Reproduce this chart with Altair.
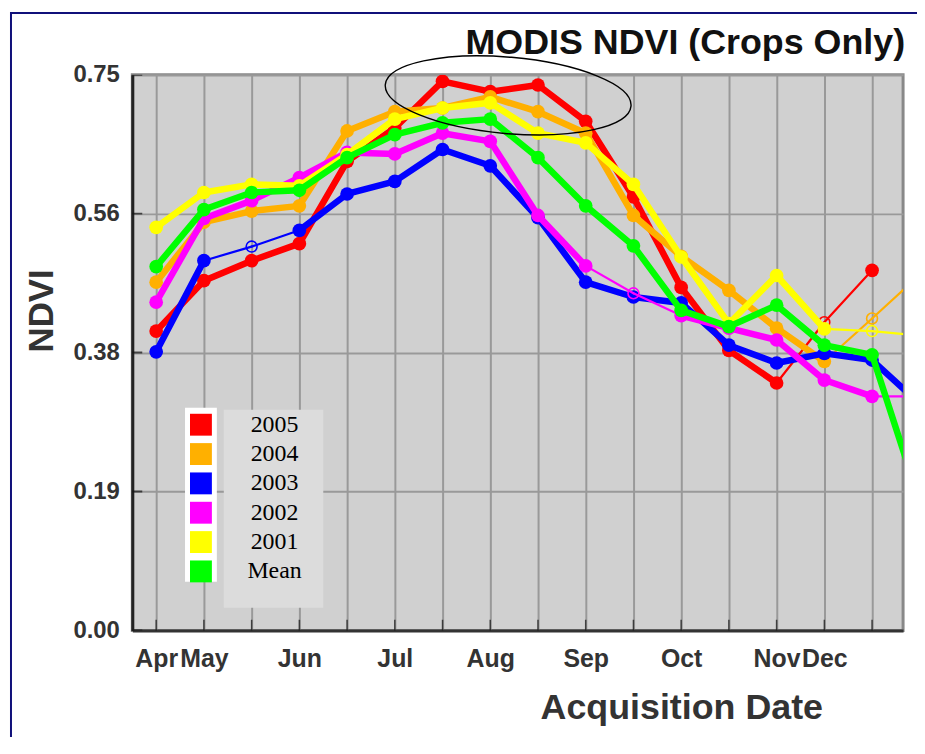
import json
import altair as alt
import pandas as pd

# ---------------- data ----------------
SERIES = ["2005", "2004", "2003", "2002", "2001", "Mean"]
COLORS = ["#ff0000", "#ffb000", "#0000ff", "#ff00ff", "#ffff00", "#00ff00"]
PERIOD = list(range(17))  # 16-day composite index (Apr ... Dec, last one beyond the frame)
TICK_LABELS = ["Apr", "May", "", "Jun", "", "Jul", "", "Aug", "", "Sep", "", "Oct", "", "Nov", "Dec", ""]
Y_TICKS = [0.0, 0.1875, 0.375, 0.5625, 0.75]

NDVI_2005 = [0.404, 0.472, 0.499, 0.522, 0.633, 0.678, 0.741, 0.727, 0.736, 0.687, 0.585, 0.463, 0.378, 0.334, 0.416, 0.486, None]
NDVI_2004 = [0.470, 0.551, 0.566, 0.573, 0.674, 0.700, 0.705, 0.720, 0.700, 0.671, 0.560, 0.505, 0.459, 0.408, 0.363, 0.421, 0.480]
NDVI_2003 = [0.376, 0.499, 0.518, 0.540, 0.589, 0.606, 0.649, 0.627, 0.557, 0.470, 0.450, 0.442, 0.385, 0.361, 0.374, 0.365, 0.306]
NDVI_2002 = [0.443, 0.556, 0.580, 0.611, 0.645, 0.643, 0.671, 0.660, 0.560, 0.492, 0.455, 0.425, 0.408, 0.392, 0.338, 0.316, 0.316]
NDVI_2001 = [0.544, 0.591, 0.602, 0.600, 0.642, 0.690, 0.705, 0.712, 0.671, 0.658, 0.602, 0.504, 0.414, 0.479, 0.407, 0.404, 0.398]
NDVI_MEAN = [0.491, 0.568, 0.591, 0.594, 0.638, 0.669, 0.685, 0.690, 0.638, 0.573, 0.519, 0.432, 0.410, 0.439, 0.385, 0.372, 0.174]

# composites that are missing / interpolated (drawn as hollow markers, thin joins)
HOLLOW_2005 = [14]
HOLLOW_2004 = [15]
HOLLOW_2003 = [2]
HOLLOW_2002 = [10, 16]
HOLLOW_2001 = [15]
HOLLOW_MEAN = []

# annotation ellipse (data units)
ELLIPSE_X = 7.375
ELLIPSE_Y = 0.722

VALUES = [NDVI_2005, NDVI_2004, NDVI_2003, NDVI_2002, NDVI_2001, NDVI_MEAN]
HOLLOWS = [HOLLOW_2005, HOLLOW_2004, HOLLOW_2003, HOLLOW_2002, HOLLOW_2001, HOLLOW_MEAN]
LAST_VISIBLE = 15

pt_rows, seg_rows = [], []
for s, vals, hol in zip(SERIES, VALUES, HOLLOWS):
    for i, v in zip(PERIOD, vals):
        if v is not None and i <= LAST_VISIBLE:
            pt_rows.append({"series": s, "x": i, "y": v, "hollow": i in hol})
    for i in PERIOD[:-1]:
        a, b = vals[i], vals[i + 1]
        if a is None or b is None:
            continue
        seg_rows.append({"series": s, "x": i, "y": a, "x2": i + 1, "y2": b,
                         "thin": (i in hol) or (i + 1 in hol)})
points = pd.DataFrame(pt_rows)
segments = pd.DataFrame(seg_rows)
xticks = pd.DataFrame({"x": PERIOD[:LAST_VISIBLE + 1], "y": [Y_TICKS[0]] * (LAST_VISIBLE + 1)})
yticks = pd.DataFrame({"x": [-0.5] * len(Y_TICKS), "y": Y_TICKS})

# ---------------- scales / axes ----------------
XS = alt.Scale(domain=[-0.5, 15.65], nice=False, zero=False)
YS = alt.Scale(domain=[0, 0.75], nice=False, zero=True)
AXIS_FONT = "Liberation Sans"
XA = alt.Axis(
    values=list(range(len(TICK_LABELS))),
    labelExpr=json.dumps(TICK_LABELS) + "[datum.value]",
    grid=True, gridColor="#999999", gridWidth=2,
    domainColor="#333333", domainWidth=3, ticks=False,
    labelFont=AXIS_FONT, labelFontSize=25, labelFontWeight="bold", labelColor="#333333",
    labelPadding=16, labelOverlap=False, labelFlush=False,
    title="Acquisition Date", titleFont=AXIS_FONT, titleFontSize=36, titleFontWeight="bold",
    titleColor="#333333", titleX=552, titleY=88, titleAlign="center", titleBaseline="alphabetic",
)
YA = alt.Axis(
    values=Y_TICKS, format=".2f",
    grid=True, gridColor="#999999", gridWidth=2,
    domainColor="#222222", domainWidth=3, ticks=False,
    labelFont=AXIS_FONT, labelFontSize=24, labelFontWeight="bold", labelColor="#333333",
    labelPadding=13, labelFlush=False,
    title="NDVI", titleFont=AXIS_FONT, titleFontSize=35, titleFontWeight="bold",
    titleColor="#333333", titleAngle=270, titleX=-91, titleY=237,
    titleAlign="center", titleBaseline="middle",
)


def xenc(f="x"):
    return alt.X(f"{f}:Q", scale=XS, axis=XA)


def yenc(f="y"):
    return alt.Y(f"{f}:Q", scale=YS, axis=YA)


one = pd.DataFrame({"k": [0]})
layers = []

# legend backing boxes (decoration)
layers.append(alt.Chart(one).mark_rect(color="#dcdcdc").encode(
    x=alt.value(92), x2=alt.value(192), y=alt.value(337), y2=alt.value(536)))
layers.append(alt.Chart(one).mark_rect(color="#ffffff").encode(
    x=alt.value(53), x2=alt.value(85), y=alt.value(335), y2=alt.value(510)))

# inward tick marks on the left and bottom frame
layers.append(alt.Chart(xticks).mark_tick(orient="vertical", color="#111111", size=22, thickness=1.5, clip=True)
              .encode(x=xenc(), y=yenc()))
layers.append(alt.Chart(yticks).mark_tick(orient="horizontal", color="#111111", size=20, thickness=2, clip=True)
              .encode(x=xenc(), y=yenc()))

# draw order (bottom -> top)
DRAW_ORDER = ["2005", "2004", "2003", "2002", "2001", "Mean"]
for s in DRAW_ORDER:
    c = COLORS[SERIES.index(s)]
    flt = alt.datum.series == s
    layers.append(
        alt.Chart(segments).transform_filter(flt)
        .mark_rule(color=c, strokeCap="round", clip=True)
        .encode(x=xenc(), y=yenc(), x2="x2:Q", y2="y2:Q",
                strokeWidth=alt.condition("datum.thin", alt.value(2.2), alt.value(6.5)))
    )
    layers.append(
        alt.Chart(points).transform_filter(flt).transform_filter("!datum.hollow")
        .mark_circle(color=c, size=190, opacity=1, clip=True)
        .encode(x=xenc(), y=yenc())
    )
    layers.append(
        alt.Chart(points).transform_filter(flt).transform_filter("datum.hollow")
        .mark_point(shape="circle", filled=False, color=c, size=120, strokeWidth=1.6, opacity=1, clip=True)
        .encode(x=xenc(), y=yenc())
    )

# annotation ellipse
ell = pd.DataFrame({"x": [ELLIPSE_X], "y": [ELLIPSE_Y]})
layers.append(
    alt.Chart(ell).mark_point(
        shape="M-1,0 A1,0.31 0 1,1 1,0 A1,0.31 0 1,1 -1,0 Z",
        size=61500, filled=False, color="black", strokeWidth=1.4, angle=5, opacity=1, clip=False)
    .encode(x=xenc(), y=yenc())
)

# chart title (as text) and outer frame
layers.append(alt.Chart(one).mark_text(
    text="MODIS NDVI (Crops Only)", font=AXIS_FONT, fontSize=36, fontWeight="bold",
    color="#111111", align="right", baseline="alphabetic").encode(
    x=alt.value(777), y=alt.value(-21)))
layers.append(alt.Chart(one).mark_rect(filled=False, stroke="#10107a", strokeWidth=2, clip=False).encode(
    x=alt.value(-122), x2=alt.value(790), y=alt.value(-62), y2=alt.value(700)))

# legend carrier (invisible marks)
layers.append(
    alt.Chart(points).mark_square(size=0, opacity=1).encode(
        x=xenc(), y=yenc(),
        color=alt.Color("series:N", sort=SERIES, scale=alt.Scale(domain=SERIES, range=COLORS),
                        legend=alt.Legend(
                            orient="none", legendX=57, legendY=340, direction="vertical", title=None,
                            symbolType="square", symbolSize=484, symbolStrokeWidth=0, symbolOpacity=1,
                            labelFont="Liberation Serif", labelFontSize=24, labelColor="black",
                            labelAlign="center", labelBaseline="middle", labelOffset=62,
                            rowPadding=5.5, padding=0, offset=0)))
)

chart = alt.layer(*layers).properties(
    width=775, height=559,
    autosize=alt.AutoSizeParams(type="none"),
    padding={"left": 125, "top": 65, "right": 14, "bottom": 105},
    background="white",
).configure_view(fill="#d0d0d0", stroke="#888888", strokeWidth=3)

chart.save("out.html", embed_options={"renderer": "svg", "actions": False})
